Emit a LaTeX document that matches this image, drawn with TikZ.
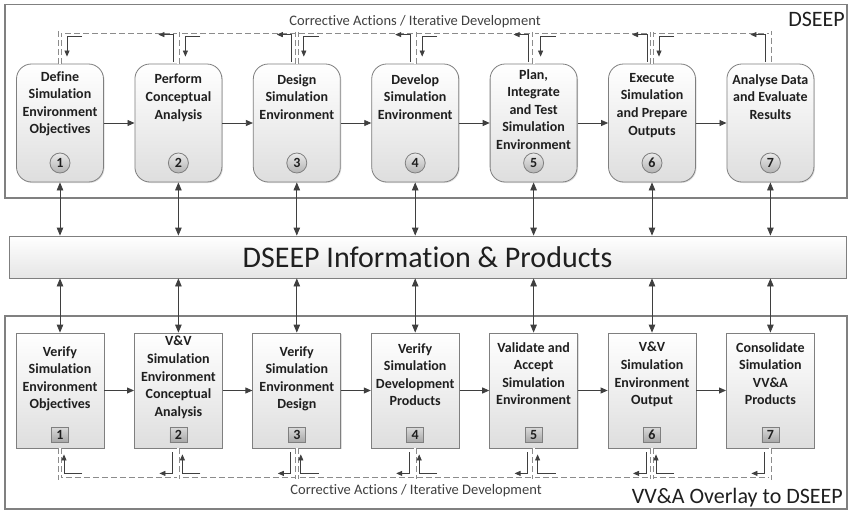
\documentclass[tikz,border=0pt]{standalone}
\usepackage{fontspec}
\setmainfont{Carlito}[Ligatures=NoCommon]
\usetikzlibrary{arrows.meta,shadows,calc}

\definecolor{linegray}{HTML}{7F7F7F}
\definecolor{framegray}{HTML}{808080}
\definecolor{arrowgray}{HTML}{3F3F3F}
\definecolor{textdark}{HTML}{1F1F1F}
\definecolor{notegray}{HTML}{404040}

\begin{document}
\begin{tikzpicture}[x=1pt,y=-1pt,
  frame/.style={draw=framegray, line width=1.1pt, fill=white, inner sep=0pt},
  stepbox/.style={draw=linegray, line width=0.8pt, top color=white, bottom color=black!13,
    minimum width=87pt, minimum height=118pt, rounded corners=15pt, inner sep=0pt,
    drop shadow={shadow xshift=1pt, shadow yshift=-1pt, opacity=0.25}},
  vvbox/.style={draw=linegray, line width=0.8pt, top color=white, bottom color=black!13,
    minimum width=88pt, minimum height=115pt, inner sep=0pt,
    drop shadow={shadow xshift=1pt, shadow yshift=-1pt, opacity=0.25}},
  boxtext/.style={font=\bfseries\fontsize{14}{17.6}\selectfont, align=center, text=textdark,
    inner sep=0pt, anchor=north},
  numcirc/.style={circle, draw=linegray, line width=0.8pt, top color=black!8, bottom color=black!30,
    minimum size=20pt, inner sep=0pt, font=\bfseries\fontsize{14}{14}\selectfont, text=textdark},
  numsq/.style={rectangle, draw=linegray, line width=0.8pt, top color=black!15, bottom color=black!35,
    minimum width=17pt, minimum height=15pt, inner sep=0pt, font=\bfseries\fontsize{14}{14}\selectfont, text=textdark},
  band/.style={draw=linegray, line width=0.8pt, top color=white, bottom color=black!10,
    minimum width=837pt, minimum height=42pt, inner sep=0pt,
    font=\fontsize{30}{31}\selectfont, text=textdark,
    drop shadow={shadow xshift=1pt, shadow yshift=-1pt, opacity=0.2}},
  flow/.style={draw=arrowgray, line width=0.8pt, -{Triangle[length=7pt,width=6pt]}},
  biarrow/.style={draw=arrowgray, line width=0.8pt, {Triangle[length=8pt,width=6.5pt]}-{Triangle[length=8pt,width=6.5pt]}},
  fb/.style={draw=arrowgray, line width=0.8pt, -{Triangle[length=6pt,width=5pt]}},
  loopline/.style={draw=black!45, line width=0.7pt, double=white, double distance=2pt,
    dash pattern=on 6pt off 3pt},
  note/.style={font=\fontsize{14.5}{16}\selectfont, text=notegray, inner sep=0pt},
  title/.style={font=\fontsize{22}{24}\selectfont, text=textdark, inner sep=0pt, anchor=east}
]
\useasboundingbox (0,0) rectangle (848,511);

% the two process frames
\node[frame, minimum width=842pt, minimum height=193.5pt] (topframe) at (426,101.25) {};
\node[frame, minimum width=842pt, minimum height=193pt] (botframe) at (426,412.5) {};

\node[title] (toptitle) at (845,19) {DSEEP};
\node[title] (bottitle) at (843,498) {VV\&A Overlay to DSEEP};

% shared information band
\node[band] (band) at (427.5,257) {DSEEP Information \& Products};

% DSEEP steps
\foreach \i/\cx/\ty/\txt in {
  1/60/77/{Define\\Simulation\\Environment\\Objectives},
  2/178.4/80/{Perform\\Conceptual\\Analysis},
  3/296.8/80/{Design\\Simulation\\Environment},
  4/415.2/80/{Develop\\Simulation\\Environment},
  5/533.6/75/{Plan,\\Integrate\\and Test\\Simulation\\Environment},
  6/652/79/{Execute\\Simulation\\and Prepare\\Outputs},
  7/770.4/80/{Analyse Data\\and Evaluate\\Results}}{
  \node[stepbox] (t\i) at (\cx,123) {};
  \node[boxtext] (tt\i) at (\cx,\ty-6) {\txt};
  \node[numcirc] (tn\i) at (\cx,163) {\i};
}

% VV&A overlay steps
\foreach \i/\cx/\ty/\txt in {
  1/60/352/{Verify\\Simulation\\Environment\\Objectives},
  2/178.4/342/{V\&V\\Simulation\\Environment\\Conceptual\\Analysis},
  3/296.8/352/{Verify\\Simulation\\Environment\\Design},
  4/415.2/349/{Verify\\Simulation\\Development\\Products},
  5/533.6/348/{Validate and\\Accept\\Simulation\\Environment},
  6/652/348/{V\&V\\Simulation\\Environment\\Output},
  7/770.4/348/{Consolidate\\Simulation\\VV\&A\\Products}}{
  \node[vvbox] (b\i) at (\cx,390.5) {};
  \node[boxtext] (bt\i) at (\cx,\ty-6) {\txt};
  \node[numsq] (bn\i) at (\cx,435) {\i};
}

% step-to-step flow
\foreach \i [evaluate=\i as \j using int(\i+1)] in {1,...,6}{
  \draw[flow] (t\i) -- (t\j);
  \draw[flow] (b\i) -- (b\j);
}

% exchange with the information band
\foreach \i in {1,...,7}{
  \draw[biarrow] (t\i.south) -- (t\i.south |- band.north);
  \draw[biarrow] (b\i.north |- band.south) -- (b\i.north);
}

% corrective action loops
\coordinate (topline) at (0,32.5);
\coordinate (botline) at (0,478.5);
\begin{scope}[xshift=1pt]
  \draw[loopline] (t1.north) -- (t1.north |- topline) -- (t7.north |- topline) -- (t7.north);
  \draw[loopline] (b1.south) -- (b1.south |- botline) -- (b7.south |- botline) -- (b7.south);
  \foreach \i in {2,...,6}{
    \draw[loopline] (t\i.north) -- (t\i.north |- topline);
    \draw[loopline] (b\i.south) -- (b\i.south |- botline);
  }
\end{scope}

% feedback taps on the DSEEP steps
\foreach \i in {2,...,7}{
  \draw[fb] ([xshift=-5pt,yshift=2pt]t\i.north) -- ++(0,-27) -- ++(-15,0);
}
\foreach \i in {1,...,6}{
  \draw[fb] ([xshift=22pt,yshift=27pt]t\i.north) -- ++(-15,0) -- ++(0,20);
}
% feedback taps on the overlay steps
\foreach \i in {2,...,7}{
  \draw[fb] ([xshift=-6pt,yshift=-4pt]b\i.south) -- ++(0,21) -- ++(-13,0);
}
\foreach \i in {1,...,6}{
  \draw[fb] ([xshift=22pt,yshift=-25pt]b\i.south) -- ++(-18,0) -- ++(0,-19);
}

\node[note] (topnote) at (415,22) {Corrective Actions / Iterative Development};
\node[note] (botnote) at (416,491) {Corrective Actions / Iterative Development};
\end{tikzpicture}
\end{document}
